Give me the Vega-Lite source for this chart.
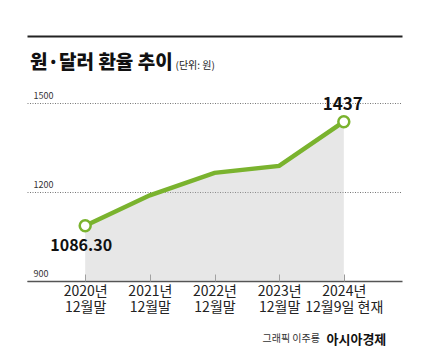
{
  "$schema": "https://vega.github.io/schema/vega-lite/v6.json",
  "width": 375,
  "height": 178,
  "autosize": {"type": "none"},
  "padding": {"left": 27, "top": 103, "right": 30, "bottom": 72},
  "background": "white",
  "config": {
    "view": {"stroke": null},
    "font": "Noto Sans CJK KR"
  },
  "title": {
    "text": "원·달러 환율 추이",
    "anchor": "start",
    "frame": "group",
    "orient": "top",
    "offset": 35,
    "baseline": "alphabetic",
    "dx": 3,
    "dy": 87,
    "font": "Noto Sans CJK KR",
    "fontSize": 19,
    "fontWeight": 900,
    "color": "#111111"
  },
  "data": {
    "values": [
      {"period": "2020년\n12월말", "rate": 1086.3, "label": "1086.30", "which": "first"},
      {"period": "2021년\n12월말", "rate": 1188.8, "label": "", "which": "mid"},
      {"period": "2022년\n12월말", "rate": 1264.5, "label": "", "which": "mid"},
      {"period": "2023년\n12월말", "rate": 1288.0, "label": "", "which": "mid"},
      {"period": "2024년\n12월9일 현재", "rate": 1437.0, "label": "1437", "which": "last"}
    ]
  },
  "resolve": {"axis": {"x": "independent"}},
  "layer": [
    {
      "mark": {"type": "area", "color": "#b5b5b5", "opacity": 0.33},
      "encoding": {
        "x": {
          "field": "period", "type": "ordinal", "sort": null,
          "scale": {"type": "point", "padding": 0.9},
          "axis": {
            "orient": "bottom",
            "title": "그래픽 이주룡",
            "titleX": 235, "titleY": 60, "titleAlign": "left", "titleAnchor": null,
            "titleBaseline": "alphabetic", "titleFontSize": 10, "titleFontWeight": "normal",
            "titleColor": "#333333", "titleFont": "Noto Sans CJK KR",
            "labelAngle": 0, "labelFontSize": 14, "labelColor": "#222222",
            "labelFont": "Noto Sans CJK KR", "labelPadding": 3, "labelLineHeight": 16,
            "labelBaseline": "top",
            "labelExpr": "split(datum.label, '\\n')",
            "ticks": false, "domain": true, "domainColor": "#555555", "domainWidth": 1.5,
            "grid": false
          }
        },
        "y": {
          "field": "rate", "type": "quantitative",
          "scale": {"domain": [900, 1500], "zero": false, "nice": false},
          "axis": {
            "orient": "left",
            "values": [900, 1200, 1500],
            "format": "d",
            "title": "(단위: 원)",
            "titleAngle": 0, "titleX": 148, "titleY": -35, "titleAlign": "left",
            "titleBaseline": "alphabetic", "titleFontSize": 10, "titleFontWeight": "normal",
            "titleColor": "#222222", "titleFont": "Noto Sans CJK KR",
            "labelAlign": "left", "labelPadding": -6, "labelBaseline": "alphabetic",
            "labelOffset": -5, "labelFontSize": 9, "labelColor": "#333333",
            "labelFont": "Noto Sans CJK KR",
            "ticks": false, "domain": false,
            "grid": true, "gridColor": "#777777", "gridDash": [1, 1.5], "gridWidth": 1
          }
        },
        "y2": {"datum": 900}
      }
    },
    {
      "mark": {"type": "line", "color": "#7ab32e", "strokeWidth": 4.5},
      "encoding": {
        "x": {
          "field": "period", "type": "ordinal", "sort": null,
          "axis": {
            "orient": "top", "offset": 67, "labels": false, "ticks": false,
            "title": null, "grid": false, "domain": true,
            "domainColor": "#222222", "domainWidth": 2
          }
        },
        "y": {"field": "rate", "type": "quantitative"}
      }
    },
    {
      "transform": [{"filter": "datum.which != 'mid'"}],
      "mark": {"type": "point", "shape": "circle", "filled": true, "fill": "white", "stroke": "#7ab32e", "strokeWidth": 2.5, "size": 120, "opacity": 1},
      "encoding": {
        "x": {
          "field": "period", "type": "ordinal", "sort": null,
          "axis": {
            "orient": "bottom", "offset": -7, "labels": false, "ticks": true,
            "tickSize": 7, "tickColor": "#999999", "tickWidth": 1,
            "domain": false, "grid": false,
            "title": "아시아경제",
            "titleX": 299, "titleY": 69, "titleAlign": "left", "titleAnchor": null,
            "titleBaseline": "alphabetic", "titleFontSize": 13, "titleFontWeight": "bold",
            "titleColor": "#111111", "titleFont": "Noto Sans CJK KR"
          }
        },
        "y": {"field": "rate", "type": "quantitative"}
      }
    },
    {
      "transform": [{"filter": "datum.which == 'first'"}],
      "mark": {"type": "text", "fontSize": 16, "fontWeight": "bold", "color": "#111111", "font": "Noto Sans CJK KR", "baseline": "middle", "align": "center", "dx": -4, "dy": 20},
      "encoding": {
        "x": {"field": "period", "type": "ordinal", "sort": null, "axis": null},
        "y": {"field": "rate", "type": "quantitative"},
        "text": {"field": "label"}
      }
    },
    {
      "transform": [{"filter": "datum.which == 'last'"}],
      "mark": {"type": "text", "fontSize": 17, "fontWeight": "bold", "color": "#111111", "font": "Noto Sans CJK KR", "baseline": "middle", "align": "center", "dx": -1, "dy": -17},
      "encoding": {
        "x": {"field": "period", "type": "ordinal", "sort": null, "axis": null},
        "y": {"field": "rate", "type": "quantitative"},
        "text": {"field": "label"}
      }
    }
  ]
}
